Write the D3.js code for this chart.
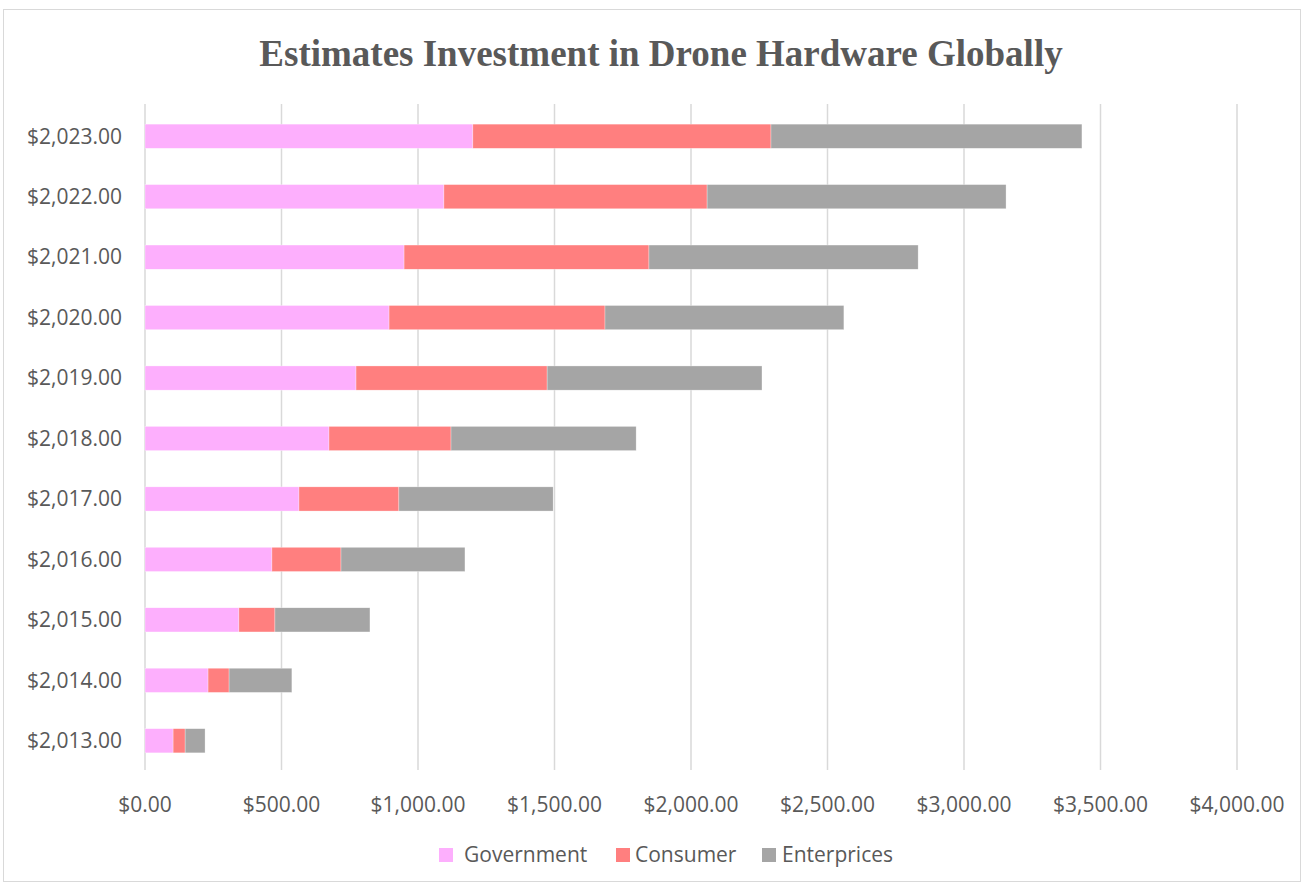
<!DOCTYPE html>
<html>
<head>
<meta charset="utf-8">
<script src="https://cdn.jsdelivr.net/npm/d3@7"></script>
<style>
  body { margin: 0; background: #fff; }
  text { fill: #595959; }
</style>
</head>
<body>
<svg id="chart" width="1304" height="885"></svg>
<script>
'use strict';

// years shown on the category axis (Excel formatted them as currency)
const years = [2013, 2014, 2015, 2016, 2017, 2018, 2019, 2020, 2021, 2022, 2023];
const government = [103, 231, 344, 465, 564, 674, 773, 894, 949, 1095, 1201];
const consumer = [44, 77, 132, 253, 366, 447, 700, 791, 897, 964, 1092];
const enterprices = [73, 230, 348, 454, 565, 678, 787, 875, 986, 1095, 1139];
const seriesNames = ['Government', 'Consumer', 'Enterprices'];
const colors = ['#fdaffd', '#ff7f7f', '#a5a5a5'];
const xTicks = [0, 500, 1000, 1500, 2000, 2500, 3000, 3500, 4000];

const svg = d3.select('#chart');
const fmt = d3.format('$,.2f');

// chart frame
svg.append('rect')
  .attr('x', 3.5).attr('y', 9.5)
  .attr('width', 1297).attr('height', 872)
  .attr('fill', '#fff').attr('stroke', '#d9d9d9');

svg.append('text')
  .attr('x', 661).attr('y', 66)
  .attr('text-anchor', 'middle')
  .style('font-family', '"Liberation Serif", "Times New Roman", serif')
  .style('font-weight', 'bold')
  .style('font-size', '37px')
  .text('Estimates Investment in Drone Hardware Globally');

const x = d3.scaleLinear().domain([0, 4000]).range([145, 1237]);
const y = d3.scaleBand()
  .domain(years.slice().reverse())
  .range([106, 771])
  .paddingInner(0.6).paddingOuter(0.3);

// vertical gridlines
svg.append('g')
  .selectAll('line')
  .data(xTicks)
  .join('line')
  .attr('x1', d => x(d)).attr('x2', d => x(d))
  .attr('y1', 104).attr('y2', 770)
  .attr('stroke', '#d9d9d9').attr('stroke-width', 1.5);

// stacked bars
const rows = years.map((yr, i) => ({
  year: yr, Government: government[i], Consumer: consumer[i], Enterprices: enterprices[i],
}));
const stacked = d3.stack().keys(seriesNames)(rows);

svg.append('g')
  .selectAll('g')
  .data(stacked)
  .join('g')
  .attr('fill', (d, i) => colors[i])
  .selectAll('rect')
  .data(d => d)
  .join('rect')
  .attr('x', d => x(d[0]))
  .attr('y', d => y(d.data.year))
  .attr('width', d => x(d[1]) - x(d[0]))
  .attr('height', y.bandwidth())
  .attr('stroke', '#fff').attr('stroke-width', 0.5).attr('stroke-opacity', 0.6);

const labelFont = '"Open Sans", "Noto Sans", sans-serif';

// y labels
svg.append('g')
  .selectAll('text')
  .data(years)
  .join('text')
  .attr('x', 122)
  .attr('y', d => y(d) + y.bandwidth() / 2)
  .attr('dy', '0.35em')
  .attr('text-anchor', 'end')
  .style('font-family', labelFont)
  .style('font-size', '21px')
  .text(d => fmt(d));

// x labels
svg.append('g')
  .selectAll('text')
  .data(xTicks)
  .join('text')
  .attr('x', d => x(d))
  .attr('y', 812)
  .attr('text-anchor', 'middle')
  .style('font-family', labelFont)
  .style('font-size', '21px')
  .text(d => fmt(d));

// legend
const legendX = [439, 616, 762];
const legendGap = [25, 19, 20];
const legend = svg.append('g')
  .selectAll('g')
  .data(seriesNames)
  .join('g')
  .attr('transform', (d, i) => `translate(${legendX[i]},848)`);
legend.append('rect')
  .attr('width', 14).attr('height', 14)
  .attr('fill', (d, i) => colors[i]);
legend.append('text')
  .attr('x', (d, i) => legendGap[i])
  .attr('y', 7).attr('dy', '0.35em')
  .style('font-family', labelFont)
  .style('font-size', '21px')
  .text(d => d);
</script>
</body>
</html>
